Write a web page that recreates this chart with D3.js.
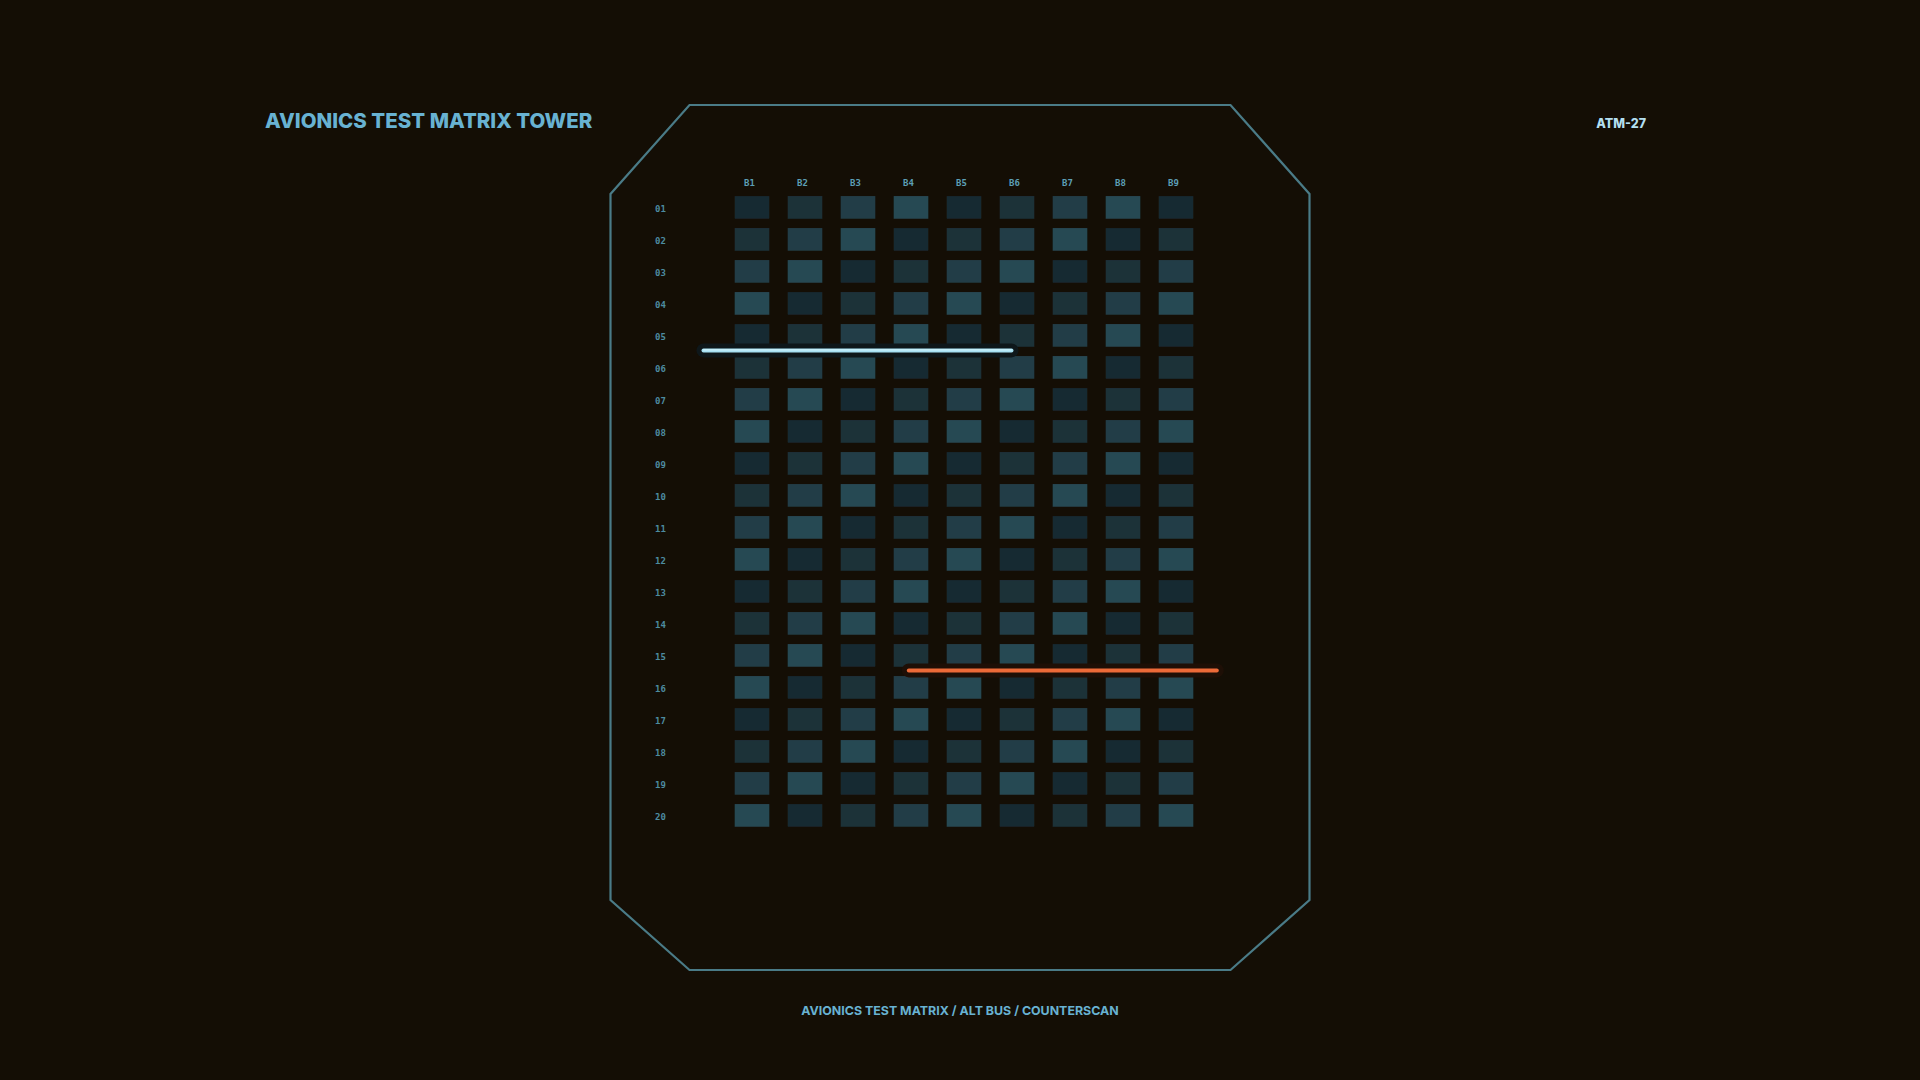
<!DOCTYPE html>
<html>
<head>
<meta charset="utf-8">
<script src="https://cdn.jsdelivr.net/npm/d3@7"></script>
<style>
  html, body { margin: 0; padding: 0; background: #140e05; }
  svg { display: block; }
</style>
</head>
<body>
<svg id="chart" width="1920" height="1080"></svg>
<script>
// ---------- data ----------
const columns = ["B1", "B2", "B3", "B4", "B5", "B6", "B7", "B8", "B9"];
const rows = ["01", "02", "03", "04", "05", "06", "07", "08", "09", "10",
              "11", "12", "13", "14", "15", "16", "17", "18", "19", "20"];
// intensity level per cell (1 = dimmest, 4 = brightest), one array per row
const r01 = [1, 2, 3, 4, 1, 2, 3, 4, 1];
const r02 = [2, 3, 4, 1, 2, 3, 4, 1, 2];
const r03 = [3, 4, 1, 2, 3, 4, 1, 2, 3];
const r04 = [4, 1, 2, 3, 4, 1, 2, 3, 4];
const r05 = [1, 2, 3, 4, 1, 2, 3, 4, 1];
const r06 = [2, 3, 4, 1, 2, 3, 4, 1, 2];
const r07 = [3, 4, 1, 2, 3, 4, 1, 2, 3];
const r08 = [4, 1, 2, 3, 4, 1, 2, 3, 4];
const r09 = [1, 2, 3, 4, 1, 2, 3, 4, 1];
const r10 = [2, 3, 4, 1, 2, 3, 4, 1, 2];
const r11 = [3, 4, 1, 2, 3, 4, 1, 2, 3];
const r12 = [4, 1, 2, 3, 4, 1, 2, 3, 4];
const r13 = [1, 2, 3, 4, 1, 2, 3, 4, 1];
const r14 = [2, 3, 4, 1, 2, 3, 4, 1, 2];
const r15 = [3, 4, 1, 2, 3, 4, 1, 2, 3];
const r16 = [4, 1, 2, 3, 4, 1, 2, 3, 4];
const r17 = [1, 2, 3, 4, 1, 2, 3, 4, 1];
const r18 = [2, 3, 4, 1, 2, 3, 4, 1, 2];
const r19 = [3, 4, 1, 2, 3, 4, 1, 2, 3];
const r20 = [4, 1, 2, 3, 4, 1, 2, 3, 4];
const levels = [r01, r02, r03, r04, r05, r06, r07, r08, r09, r10,
                r11, r12, r13, r14, r15, r16, r17, r18, r19, r20];
// scan traces: drawn between a row and the next, over a fraction of the span
const scanRows = ["05", "15"];
const scanStart = [0, 0.4];
const scanEnd = [0.6, 1];
const scanNames = ["alt", "counter"];

const title = "AVIONICS TEST MATRIX TOWER";
const code = "ATM-27";
const footer = "AVIONICS TEST MATRIX / ALT BUS / COUNTERSCAN";

// ---------- drawing ----------
const svg = d3.select("#chart");
svg.append("rect").attr("width", 1920).attr("height", 1080).attr("fill", "#140e05");

const defs = svg.append("defs");
defs.append("filter").attr("id", "soft")
  .attr("x", "-10%").attr("y", "-10%").attr("width", "120%").attr("height", "120%")
  .append("feGaussianBlur").attr("stdDeviation", 0.5);

// frame (octagon)
const frame = [[689.5, 105], [1230.5, 105], [1309.5, 194], [1309.5, 900],
               [1230.5, 970], [689.5, 970], [610.5, 900], [610.5, 194]];
svg.append("path")
  .attr("d", d3.line()(frame) + "Z")
  .attr("fill", "none")
  .attr("stroke", "#4a7b87")
  .attr("stroke-width", 2.2)
  .attr("stroke-linejoin", "miter");

const x = d3.scalePoint().domain(columns).range([752, 1176]);
const y = d3.scalePoint().domain(rows).range([207.4, 815.4]);
const color = d3.scaleOrdinal().domain([1, 2, 3, 4])
  .range(["#172930", "#1c3139", "#213d46", "#264853"]);
const cellW = 34.6, cellH = 22.7;

const cells = [];
levels.forEach((arr, ri) => arr.forEach((v, ci) => cells.push({ row: rows[ri], col: columns[ci], v })));

svg.append("g").attr("filter", "url(#soft)")
  .selectAll("rect").data(cells).join("rect")
  .attr("x", d => x(d.col) - cellW / 2)
  .attr("y", d => y(d.row) - cellH / 2)
  .attr("width", cellW)
  .attr("height", cellH)
  .attr("fill", d => color(d.v));

// column labels
svg.append("g").selectAll("text").data(columns).join("text")
  .attr("x", d => x(d) - 2.5)
  .attr("y", 185.6)
  .attr("text-anchor", "middle")
  .attr("font-family", "'DejaVu Sans Mono', monospace")
  .attr("font-weight", 700)
  .attr("font-size", 9)
  .attr("fill", "#5c9fb6")
  .text(d => d);

// row labels
svg.append("g").selectAll("text").data(rows).join("text")
  .attr("x", 655)
  .attr("y", d => y(d) + 4.6)
  .attr("text-anchor", "start")
  .attr("font-family", "'DejaVu Sans Mono', monospace")
  .attr("font-weight", 700)
  .attr("font-size", 9)
  .attr("fill", "#4d8ba0")
  .text(d => d);

// scan traces
const sx = d3.scaleLinear().domain([0, 1]).range([703.5, 1216.8]);
const scans = scanRows.map((r, i) => ({ row: r, a: scanStart[i], b: scanEnd[i], name: scanNames[i] }));
const haloCol = { alt: "#0e171a", counter: "#1e0f06" };
const lineCol = { alt: "#a6e0f2", counter: "#ec6a38" };
const scanY = d => y(d.row) + y.step() / 2 - 1;
const sg = svg.append("g");
sg.selectAll("line.halo").data(scans).join("line")
  .attr("class", "halo")
  .attr("x1", d => sx(d.a)).attr("x2", d => sx(d.b))
  .attr("y1", scanY).attr("y2", scanY)
  .attr("stroke", d => haloCol[d.name])
  .attr("stroke-width", 14)
  .attr("stroke-linecap", "round");
sg.selectAll("line.trace").data(scans).join("line")
  .attr("class", "trace")
  .attr("x1", d => sx(d.a)).attr("x2", d => sx(d.b))
  .attr("y1", scanY).attr("y2", scanY)
  .attr("stroke", d => lineCol[d.name])
  .attr("stroke-width", 4)
  .attr("stroke-linecap", "round");
sg.selectAll("line.core").data(scans.filter(d => d.name === "alt")).join("line")
  .attr("class", "core")
  .attr("x1", d => sx(d.a)).attr("x2", d => sx(d.b))
  .attr("y1", d => scanY(d) - 0.5).attr("y2", d => scanY(d) - 0.5)
  .attr("stroke", "#cdf2fb")
  .attr("stroke-width", 1.2)
  .attr("stroke-linecap", "round");

// titles
svg.append("text")
  .attr("x", 265).attr("y", 127.8)
  .attr("font-family", "Inter, 'Open Sans', sans-serif")
  .attr("font-weight", 800)
  .attr("font-size", 20.5)
  .attr("fill", "#68b2d2")
  .text(title);

svg.append("text")
  .attr("x", 1646).attr("y", 128)
  .attr("text-anchor", "end")
  .attr("font-family", "Inter, 'Open Sans', sans-serif")
  .attr("font-weight", 800)
  .attr("font-size", 12.5)
  .attr("fill", "#b3dff0")
  .text(code);

svg.append("text")
  .attr("x", 960).attr("y", 1015)
  .attr("text-anchor", "middle")
  .attr("font-family", "Inter, 'Open Sans', sans-serif")
  .attr("font-weight", 700)
  .attr("font-size", 12.4)
  .attr("fill", "#68b2d2")
  .text(footer);
</script>
</body>
</html>
